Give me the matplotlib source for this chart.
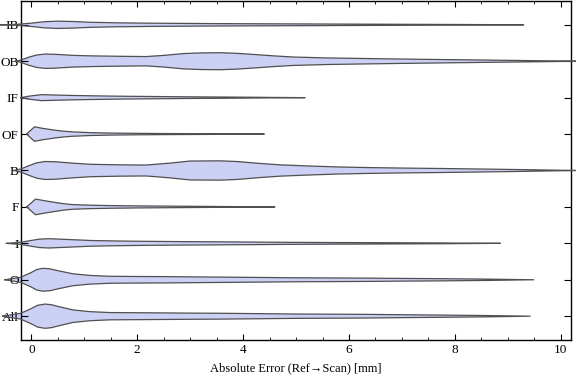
import numpy as np
import matplotlib.pyplot as plt

plt.rcParams['font.family'] = ['Liberation Serif', 'DejaVu Serif']

# categories from top to bottom
labels = ['IB', 'OB', 'IF', 'OF', 'B', 'F', 'I', 'O', 'All']

# error values along each violin and the half width (density)
ib_x = [-0.58, -0.3, 0.0, 0.25, 0.5, 0.8, 1.1, 1.6, 2.2, 3.0, 3.6, 4.5, 5.3, 6.2, 7.0, 8.2, 9.3]
ib_w = [0, 0.01, 0.045, 0.085, 0.10, 0.09, 0.07, 0.055, 0.045, 0.037, 0.032, 0.027, 0.023, 0.018, 0.014, 0.008, 0]

ob_x = [-0.3, -0.2, -0.05, 0.1, 0.26, 0.45, 0.8, 1.13, 1.7, 2.17, 2.5, 2.87, 3.2, 3.57, 3.9, 4.26, 4.6,
        4.96, 5.6, 6.36, 7.0, 7.75, 8.5, 9.35, 10.4]
ob_w = [0, 0.03, 0.11, 0.17, 0.197, 0.19, 0.16, 0.147, 0.135, 0.128, 0.16, 0.21, 0.228, 0.234, 0.215, 0.18, 0.145,
        0.115, 0.09, 0.073, 0.06, 0.046, 0.033, 0.018, 0]

if_x = [-0.2, -0.05, 0.19, 0.45, 0.78, 1.3, 1.83, 2.4, 2.87, 3.9, 5.17]
if_w = [0, 0.04, 0.082, 0.072, 0.06, 0.047, 0.037, 0.03, 0.024, 0.014, 0]

of_x = [-0.09, 0.06, 0.2, 0.43, 0.6, 0.78, 1.1, 1.48, 2.0, 2.52, 3.4, 4.4]
of_w = [0, 0.2, 0.16, 0.11, 0.08, 0.06, 0.04, 0.028, 0.02, 0.015, 0.009, 0]

b_x = [-0.33, -0.2, -0.05, 0.1, 0.26, 0.45, 0.8, 1.13, 1.7, 2.17, 2.6, 3.0, 3.57, 3.9, 4.26, 4.7, 5.31,
       5.8, 6.36, 7.0, 7.75, 8.5, 9.14, 9.8, 10.3]
b_w = [0, 0.04, 0.13, 0.21, 0.247, 0.24, 0.2, 0.17, 0.155, 0.15, 0.2, 0.26, 0.265, 0.245, 0.2, 0.155, 0.12,
       0.097, 0.08, 0.067, 0.055, 0.04, 0.027, 0.012, 0]

f_x = [-0.09, 0.08, 0.25, 0.43, 0.6, 0.78, 1.1, 1.48, 2.0, 2.73, 3.6, 4.6]
f_w = [0, 0.215, 0.17, 0.128, 0.09, 0.064, 0.048, 0.037, 0.028, 0.02, 0.011, 0]

i_x = [-0.47, -0.2, 0.0, 0.15, 0.33, 0.7, 1.13, 1.6, 2.17, 2.9, 3.57, 4.3, 4.96, 5.7, 6.36, 7.0, 7.75, 8.86]
i_w = [0, 0.03, 0.08, 0.115, 0.128, 0.105, 0.078, 0.065, 0.055, 0.047, 0.041, 0.034, 0.027, 0.022, 0.019,
       0.015, 0.011, 0]

o_x = [-0.5, -0.2, 0.0, 0.1, 0.22, 0.35, 0.5, 0.78, 1.1, 1.48, 2.0, 2.52, 3.0, 3.57, 4.3, 4.96, 5.7, 6.36,
       7.0, 7.75, 8.6, 9.49]
o_w = [0, 0.07, 0.2, 0.28, 0.315, 0.3, 0.25, 0.165, 0.12, 0.096, 0.09, 0.087, 0.08, 0.073, 0.064, 0.055, 0.05,
       0.045, 0.037, 0.03, 0.018, 0]

all_x = [-0.54, -0.2, 0.0, 0.12, 0.26, 0.38, 0.5, 0.78, 1.1, 1.48, 2.0, 2.52, 3.0, 3.57, 4.3, 4.96, 5.7, 6.36,
         7.0, 7.75, 8.6, 9.42]
all_w = [0, 0.08, 0.21, 0.3, 0.333, 0.315, 0.27, 0.174, 0.125, 0.1, 0.095, 0.09, 0.085, 0.08, 0.07, 0.06, 0.055,
         0.05, 0.04, 0.03, 0.018, 0]

profiles = [(ib_x, ib_w), (ob_x, ob_w), (if_x, if_w), (of_x, of_w), (b_x, b_w),
            (f_x, f_w), (i_x, i_w), (o_x, o_w), (all_x, all_w)]

fig = plt.figure(figsize=(5.76, 3.81), dpi=100)
ax = fig.add_axes([0.036, 0.107, 0.956, 0.891])

n = len(labels)
pos = np.arange(n, 0, -1)

for p, (x, w) in zip(pos, profiles):
    x = np.array(x)
    w = np.array(w)
    # fill under the tick labels, outline on top of them
    ax.fill_between(x, p - w, p + w, facecolor='#cbd0f4', edgecolor='none',
                    clip_on=False, zorder=1)
    xs = np.concatenate([x, x[::-1]])
    ys = np.concatenate([p + w, (p - w)[::-1]])
    ax.plot(xs, ys, color='#505050', lw=0.9, clip_on=False, zorder=3)

ax.set_xlim(-0.2, 10.2)
ax.set_ylim(1 - 0.66, n + 0.66)
ax.set_yticks(pos)
ax.set_yticklabels(labels)
ax.set_xticks([0, 2, 4, 6, 8, 10])
ax.set_xticks(np.arange(0, 10.3, 0.5), minor=True)
ax.tick_params(direction='in', top=True, right=True, labelsize=9.5, length=4, width=0.8, pad=3)
ax.tick_params(which='minor', direction='in', top=True, right=True, length=2.2, width=0.6)
ax.tick_params(axis='y', length=5, pad=1.5)
for s in ax.spines.values():
    s.set_linewidth(1.0)
ax.set_xlabel('Absolute Error (Ref\u2192Scan) [mm]', fontsize=9, labelpad=4)

plt.savefig('out.png', dpi=100)
